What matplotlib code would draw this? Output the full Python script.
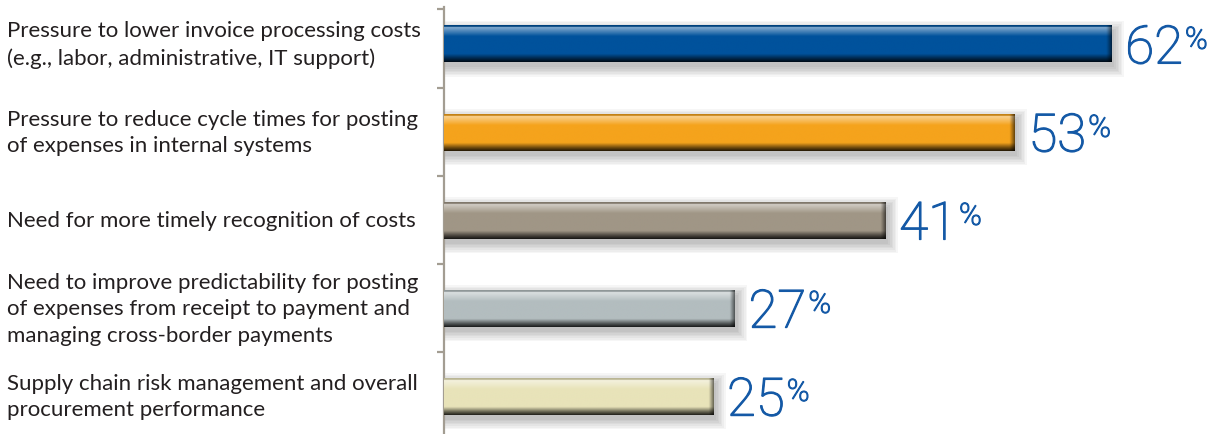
import numpy as np
import matplotlib
matplotlib.use("Agg")
import matplotlib.pyplot as plt
import matplotlib.patheffects as pe
from matplotlib.colors import to_rgb
from matplotlib.transforms import blended_transform_factory

categories = [
    "Pressure to lower invoice processing costs\n(e.g., labor, administrative, IT support)",
    "Pressure to reduce cycle times for posting\nof expenses in internal systems",
    "Need for more timely recognition of costs",
    "Need to improve predictability for posting\nof expenses from receipt to payment and\nmanaging cross-border payments",
    "Supply chain risk management and overall\nprocurement performance",
]
values = [62, 53, 41, 27, 25]
bar_colors = ["#00529c", "#f5a31c", "#a09686", "#b3bdbf", "#e8e3b9"]

BAR_H = 0.42
VALUE_BLUE = "#1459a6"
AXIS_GREY = "#a39d92"

fig = plt.figure(figsize=(12.19, 4.35), dpi=100)
ax = fig.add_axes([444 / 1219, 0, 1 - 444 / 1219, 1 - 8 / 435])
ax.set_xlim(0, 72)
ax.set_ylim(4.43, -0.42)

px_x = 72 / 775.0   # data units per pixel
px_y = 4.85 / 427.0


def vertical_profile(t):
    # lighten / darken factors from top (0) to bottom (1) of a bar
    light = np.zeros_like(t)
    dark = np.ones_like(t)
    light = np.where(t < 0.04, -0.15, light)
    m = (t >= 0.04) & (t < 0.3)
    light = np.where(m, 0.55 * (1 - (t - 0.04) / 0.26), light)
    m = (t >= 0.78) & (t < 0.9)
    dark = np.where(m, 1 - 0.5 * (t - 0.78) / 0.12, dark)
    dark = np.where(t >= 0.9, 0.5 - 0.35 * (t - 0.9) / 0.1, dark)
    return light, dark


thicken = [pe.withStroke(linewidth=0.9, foreground=VALUE_BLUE)]

for i, (v, c) in enumerate(zip(values, bar_colors)):
    # soft drop shadow
    for k in range(7):
        grow = k * 1.6
        ax.barh(i + 5 * px_y, v + (3 + grow) * px_x, height=BAR_H + 2 * grow * px_y,
                color="black", alpha=0.035, linewidth=0, zorder=1)

    bar = ax.barh(i, v, height=BAR_H, color=c, linewidth=0, zorder=2)[0]

    base = np.array(to_rgb(c))
    ny, nx = 80, 600
    t = np.linspace(0, 1, ny)[:, None]
    xs = np.linspace(0, v, nx)[None, :]
    light, dark = vertical_profile(t)
    img = base[None, None, :] * np.ones((ny, nx, 1))
    lt = np.clip(light, 0, 1)[..., None]
    img = img * (1 - lt) + lt
    img = np.where(light[..., None] < 0, img * 0.8, img)
    img = img * dark[..., None]
    # right bevel edge
    dist = (v - xs) / px_x
    edge = np.where(dist < 5, 0.45 + 0.55 * dist / 5, 1.0)
    img = img * edge[..., None]
    im = ax.imshow(np.clip(img, 0, 1), extent=(0, v, i + BAR_H / 2, i - BAR_H / 2),
                   aspect="auto", interpolation="bilinear", zorder=3)
    im.set_clip_path(bar)

    num = ax.annotate(f"{v}", xy=(v, i), xytext=(10, -14), textcoords="offset points",
                      ha="left", va="baseline", fontsize=38, family="Roboto",
                      fontweight="light", color=VALUE_BLUE, zorder=5,
                      path_effects=thicken)
    ax.annotate("%", xy=(1, 1), xycoords=num, xytext=(1.5, -2), textcoords="offset points",
                ha="left", va="top", fontsize=22, family="Roboto",
                fontweight="light", color=VALUE_BLUE, zorder=5,
                path_effects=thicken)

ax.set_xlim(0, 72)
ax.set_ylim(4.43, -0.42)

trans = blended_transform_factory(fig.transFigure, ax.transData)
for i, lab in enumerate(categories):
    ax.text(7 / 1219, i, lab, transform=trans, ha="left", va="center",
            fontsize=16, family="Lato", color="#231f20", linespacing=1.4)

for s in ["top", "right", "bottom"]:
    ax.spines[s].set_visible(False)
ax.spines["left"].set_color(AXIS_GREY)
ax.spines["left"].set_linewidth(1.6)
ax.set_xticks([])
ax.set_yticks([-0.4, 0.5, 1.5, 2.5, 3.5])
ax.set_yticklabels([])
ax.tick_params(axis="y", direction="out", length=5, width=1.6, color=AXIS_GREY)
ax.patch.set_alpha(0)

fig.savefig("out.png", dpi=100)
